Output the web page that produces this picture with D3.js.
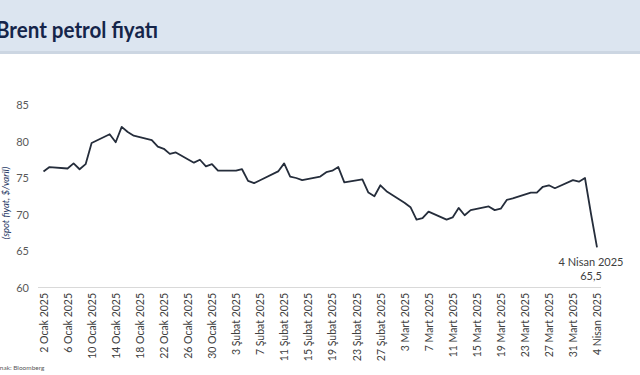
<!DOCTYPE html>
<html><head><meta charset="utf-8">
<style>
body { margin: 0; background: #fff; }
svg { display: block; font-family: Lato, "Open Sans", sans-serif; }
.axis--y path, .axis--y line { display: none; }
.axis--x path, .axis--x line { display: none; }
</style>
</head><body>
<svg width="640" height="375"></svg>
<script src="https://d3js.org/d3.v7.min.js"></script>
<script>

var dates = [
  "2025-01-02","2025-01-03","2025-01-06","2025-01-07","2025-01-08","2025-01-09","2025-01-10",
  "2025-01-13","2025-01-14","2025-01-15","2025-01-16","2025-01-17",
  "2025-01-20","2025-01-21","2025-01-22","2025-01-23","2025-01-24",
  "2025-01-27","2025-01-28","2025-01-29","2025-01-30","2025-01-31",
  "2025-02-03","2025-02-04","2025-02-05","2025-02-06","2025-02-07",
  "2025-02-10","2025-02-11","2025-02-12","2025-02-13","2025-02-14",
  "2025-02-17","2025-02-18","2025-02-19","2025-02-20","2025-02-21",
  "2025-02-24","2025-02-25","2025-02-26","2025-02-27","2025-02-28",
  "2025-03-03","2025-03-04","2025-03-05","2025-03-06","2025-03-07",
  "2025-03-10","2025-03-11","2025-03-12","2025-03-13","2025-03-14",
  "2025-03-17","2025-03-18","2025-03-19","2025-03-20","2025-03-21",
  "2025-03-24","2025-03-25","2025-03-26","2025-03-27","2025-03-28",
  "2025-03-31","2025-04-01","2025-04-02","2025-04-03","2025-04-04"
];

var prices = [
  75.9, 76.5, 76.3, 77.0, 76.2, 76.9, 79.8,
  81.0, 79.9, 82.0, 81.3, 80.8,
  80.2, 79.3, 79.0, 78.3, 78.5,
  77.1, 77.5, 76.6, 76.9, 76.0,
  76.0, 76.2, 74.6, 74.3, 74.7,
  75.9, 77.0, 75.2, 75.0, 74.7,
  75.2, 75.8, 76.0, 76.5, 74.4,
  74.8, 73.0, 72.5, 74.0, 73.2,
  71.6, 71.0, 69.3, 69.5, 70.4,
  69.3, 69.6, 70.9, 69.9, 70.6,
  71.1, 70.6, 70.8, 72.0, 72.2,
  73.0, 73.0, 73.8, 74.0, 73.6,
  74.7, 74.5, 75.0, 70.1, 65.5
];

var yTicks = [60, 65, 70, 75, 80, 85];
var monthNames = ["Ocak", "Şubat", "Mart", "Nisan"];
var lastLabel = ["4 Nisan 2025", "65,5"];

var svg = d3.select("svg"),
    W = +svg.attr("width"), H = +svg.attr("height");

var parse = d3.utcParse("%Y-%m-%d");
var data = dates.map(function(d, i) { return {date: parse(d), value: prices[i]}; });

// header band
svg.append("rect").attr("x", 0).attr("y", 0).attr("width", W).attr("height", 52).attr("fill", "#dce5f0");
svg.append("rect").attr("x", 0).attr("y", 51).attr("width", W).attr("height", 3).attr("fill", "#ccd6e2");
svg.append("text")
    .attr("x", -4).attr("y", 38)
    .attr("font-size", 23).attr("font-weight", "bold")
    .attr("fill", "#15254a")
    .attr("textLength", 162).attr("lengthAdjust", "spacingAndGlyphs")
    .text("Brent petrol fiyatı");

var x = d3.scaleUtc()
    .domain([data[0].date, data[data.length - 1].date])
    .range([43.5, 597]);
var y = d3.scaleLinear().domain([60, 85]).range([287.5, 105]);

// baseline
svg.append("line")
    .attr("x1", 38).attr("x2", 601)
    .attr("y1", y(60)).attr("y2", y(60))
    .attr("stroke", "#d9d9d9").attr("stroke-width", 1);

svg.append("g")
    .attr("class", "axis axis--y")
    .attr("transform", "translate(29,0)")
    .call(d3.axisLeft(y).tickValues(yTicks).tickSize(0).tickPadding(0))
    .selectAll("text")
      .attr("font-family", "Lato, sans-serif")
      .attr("font-size", 11).attr("fill", "#595959");

svg.append("text")
    .attr("transform", "translate(9,203) rotate(-90)")
    .attr("text-anchor", "middle")
    .attr("font-size", 9.5).attr("font-style", "italic")
    .attr("fill", "#1f3864")
    .text("(spot fiyat, $/varil)");

var tickDates = d3.utcDay.range(data[0].date, d3.utcDay.offset(data[data.length - 1].date, 1), 1)
    .filter(function(d, i) { return i % 4 === 0; });

var xAxis = svg.append("g")
    .attr("class", "axis axis--x")
    .attr("transform", "translate(0,293)")
    .call(d3.axisBottom(x).tickValues(tickDates).tickSize(0).tickPadding(0)
      .tickFormat(function(d) { return d.getUTCDate() + " " + monthNames[d.getUTCMonth()] + " " + d.getUTCFullYear(); }));

xAxis.selectAll("text")
    .attr("font-family", "Lato, sans-serif")
    .attr("font-size", 10.5).attr("fill", "#404040")
    .attr("transform", "rotate(-90)")
    .attr("text-anchor", "end")
    .attr("x", 0).attr("y", 0).attr("dy", "0.35em");

var line = d3.line()
    .x(function(d) { return x(d.date); })
    .y(function(d) { return y(d.value); });

svg.append("path")
    .datum(data)
    .attr("fill", "none")
    .attr("stroke", "#252d3b")
    .attr("stroke-width", 1.8)
    .attr("stroke-linejoin", "round")
    .attr("d", line);

var last = data[data.length - 1];
svg.append("text")
    .attr("x", x(last.date) - 6).attr("y", y(last.value) + 19)
    .attr("text-anchor", "middle").attr("font-size", 11).attr("fill", "#404040")
    .text(lastLabel[0]);
svg.append("text")
    .attr("x", x(last.date) - 6).attr("y", y(last.value) + 33)
    .attr("text-anchor", "middle").attr("font-size", 11).attr("fill", "#404040")
    .text(lastLabel[1]);

svg.append("text")
    .attr("x", -11).attr("y", 370)
    .attr("font-size", 6.5).attr("fill", "#595959")
    .text("Kaynak: Bloomberg");

</script>
</body></html>
